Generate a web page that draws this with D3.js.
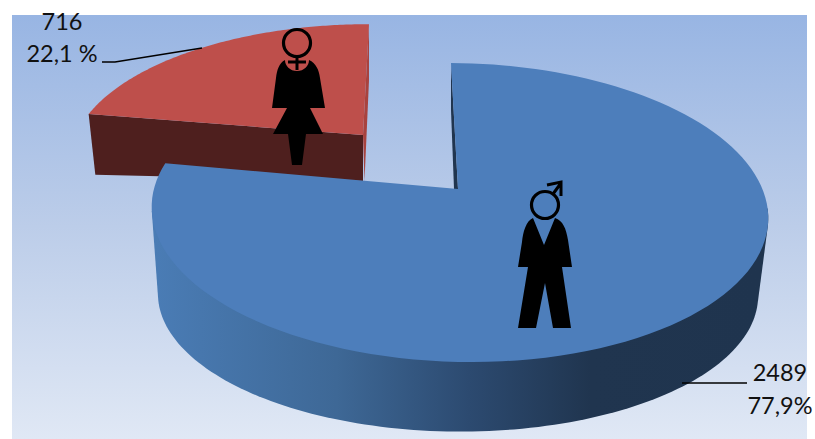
<!DOCTYPE html>
<html>
<head>
<meta charset="utf-8">
<script src="https://cdn.jsdelivr.net/npm/d3@7"></script>
<style>
	html, body { margin: 0; padding: 0; background: #fff; }
	svg { display: block; }
	text { font-family: Lato, "Open Sans", sans-serif; font-size: 23.5px; fill: #111; }
</style>
</head>
<body>
<svg id="chart" width="815" height="439"></svg>
<script>
var categories = ['Men', 'Women'];
var counts = [2489, 716];
var countLabels = ['2489', '716'];
var shareLabels = ['77,9%', '22,1 %'];

var svg = d3.select('#chart');
var defs = svg.append('defs');

//plot background
var bg = defs.append('linearGradient').attr('id', 'bg').attr('x1', 0).attr('y1', 0).attr('x2', 0).attr('y2', 1);
bg.append('stop').attr('offset', 0).attr('stop-color', '#98b5e3');
bg.append('stop').attr('offset', 0.5).attr('stop-color', '#bccde9');
bg.append('stop').attr('offset', 1).attr('stop-color', '#e0e8f5');
svg.append('rect')
	.attr('x', 12).attr('y', 15)
	.attr('width', 795).attr('height', 424)
	.style('fill', 'url(#bg)');

//side of the big slice goes dark towards the right
var side = defs.append('linearGradient').attr('id', 'side')
	.attr('gradientUnits', 'userSpaceOnUse')
	.attr('x1', 155).attr('y1', 0).attr('x2', 760).attr('y2', 0);
side.append('stop').attr('offset', 0).attr('stop-color', '#4a7cb5');
side.append('stop').attr('offset', 0.3).attr('stop-color', '#3e6896');
side.append('stop').attr('offset', 0.52).attr('stop-color', '#2c4a70');
side.append('stop').attr('offset', 0.72).attr('stop-color', '#20354f');
side.append('stop').attr('offset', 1).attr('stop-color', '#1f344e');

var pie = d3.pie().sort(null).startAngle(0).endAngle(2 * Math.PI);
var slices = pie(counts);

//perspective view of a flat disc, one per face
var K = 0.164;
function face(ax, ay, rx, ry, shear, tilt) {
	return function(a) {
		var w = 1 + K * Math.cos(a);
		var dx = rx * Math.sin(a) / w;
		var dy = -ry * Math.cos(a) / w;
		return [ax + dx + shear * dy, ay + dy + tilt * dx];
	};
}

var blueTop = face(458.5, 188, 304, 145.5, 0.06, 0.004);
var blueBottom = face(458, 272.5, 296, 133, 0, 0.004);
var redTop = face(363, 135, 287, 129, -0.054, 0);
var redBottom = face(363, 181, 280, 125, -0.054, -0.052);

var line = d3.line();

function arcPoints(f, a0, a1) {
	return d3.range(0, 121).map(function(i) {
		return f(a0 + (a1 - a0) * i / 120);
	});
}

function sector(f, d, apex) {
	var pts = arcPoints(f, d.startAngle, d.endAngle);
	pts.push(apex);
	return pts;
}

var men = slices[0], women = slices[1];
var blueApex = [458, 189];
var redApex = [363, 135];

//red slice: walls first, then the top
svg.append('path')
	.attr('d', line([redTop(2 * Math.PI), [369, 80], [364.5, 181], redApex]) + 'Z')
	.style('fill', '#a8433f');
svg.append('path')
	.attr('d', line([redTop(women.startAngle), redApex, [363, 181], redBottom(women.startAngle)]) + 'Z')
	.style('fill', '#4e1f1e');
svg.append('path')
	.attr('d', line(sector(redTop, women, redApex)) + 'Z')
	.style('fill', '#be4f4b');

//blue slice: outer wall, thin inner wall, then the top
var outer = d3.polygonHull(arcPoints(blueTop, 1.7, 4.55).concat(arcPoints(blueBottom, 1.7, 4.55)));
svg.append('path')
	.attr('d', line(outer) + 'Z')
	.style('fill', 'url(#side)');
svg.append('path')
	.attr('d', line([blueTop(0), [451, 110], [454, 189], blueApex]) + 'Z')
	.style('fill', '#20354f');
svg.append('path')
	.attr('d', line(sector(blueTop, men, blueApex)) + 'Z')
	.style('fill', '#4d7ebb');

//pictograms
var woman = svg.append('g');
woman.append('path')
	.attr('d', 'M285,60 C279,63 277,70 276,78 L272,108 L287,108 L273,134 L288,134 L292,165 L302,165 L306,134 L323,134 L310,108 L325,108 L320,78 C319,70 316,63 309,60 C309,66 304,71 297,71 C290,71 285,66 285,60 Z')
	.style('fill', '#000');
woman.append('circle').attr('cx', 297).attr('cy', 43).attr('r', 13.5)
	.style('fill', 'none').style('stroke', '#000').style('stroke-width', 3.2);
woman.append('path').attr('d', 'M297,56 V70 M288,62 H306')
	.style('fill', 'none').style('stroke', '#000').style('stroke-width', 3);

var man = svg.append('g');
man.append('path')
	.attr('d', 'M533,218 C526,221 523,232 522,242 L518,267 L528,267 L518,328 L536,328 L545,283 L553,328 L571,328 L562,267 L572,267 L568,240 C566,228 563,221 555,218 L544,245 Z')
	.style('fill', '#000');
man.append('circle').attr('cx', 545).attr('cy', 205).attr('r', 13.5)
	.style('fill', 'none').style('stroke', '#000').style('stroke-width', 3.2);
man.append('path').attr('d', 'M553,194 L561,183 M547,185 L561,182 L561,196')
	.style('fill', 'none').style('stroke', '#000').style('stroke-width', 3);

//leader lines and labels
svg.append('path').attr('d', line([[102, 62], [115, 62], [202, 48]]))
	.style('fill', 'none').style('stroke', '#000').style('stroke-width', 1.5);
svg.append('path').attr('d', line([[682, 383], [747, 383]]))
	.style('fill', 'none').style('stroke', '#000').style('stroke-width', 1.5);

svg.append('text').attr('x', 62).attr('y', 30).attr('text-anchor', 'middle').text(countLabels[1]);
svg.append('text').attr('x', 62).attr('y', 62).attr('text-anchor', 'middle').text(shareLabels[1]);
svg.append('text').attr('x', 780).attr('y', 381).attr('text-anchor', 'middle').text(countLabels[0]);
svg.append('text').attr('x', 780).attr('y', 414).attr('text-anchor', 'middle').text(shareLabels[0]);
</script>
</body>
</html>
